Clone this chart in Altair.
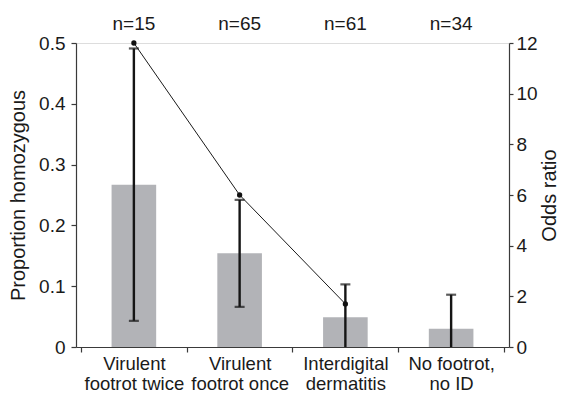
import altair as alt
import pandas as pd

# ---- data ----
label_lines = [
    ["Virulent", "footrot twice"],
    ["Virulent", "footrot once"],
    ["Interdigital", "dermatitis"],
    ["No footrot,", "no ID"],
]
n_labels = ["n=15", "n=65", "n=61", "n=34"]
proportion = [0.267, 0.154, 0.049, 0.030]
ci_low = [0.043, 0.066, 0.0, 0.0]
ci_high = [0.491, 0.242, 0.103, 0.086]
odds_ratio = [12.0, 6.0, 1.7, None]

pos = [i + 0.5 for i in range(len(label_lines))]
df = pd.DataFrame({
    "pos": pos,
    "prop": proportion,
    "lo": ci_low,
    "hi": ci_high,
    "odds": odds_ratio,
    "n": n_labels,
})

# label expression for multi-line category labels
expr_parts = []
for p, lines in zip(pos, label_lines):
    arr = "[" + ", ".join("'" + s + "'" for s in lines) + "]"
    expr_parts.append(f"datum.value == {p} ? {arr} : ")
label_expr = "".join(expr_parts) + "''"

FONT = "Liberation Sans"
AX = "#3a3a3a"
TXT = "#1a1a1a"

x_values = [v / 2 for v in range(0, 2 * len(label_lines) + 1)]

x_enc = alt.X(
    "pos:Q",
    scale=alt.Scale(domain=[0, len(label_lines)], nice=False, zero=False),
    axis=alt.Axis(
        values=x_values,
        labelExpr=label_expr,
        title=None,
        grid=False,
        tickSize=5,
        tickColor=AX,
        tickWidth=1.2,
        tickOpacity={"condition": {"test": "datum.value % 1 != 0", "value": 0}, "value": 1},
        domainColor=AX,
        domainWidth=1.2,
        labelFont=FONT,
        labelFontSize=18.5,
        labelColor=TXT,
        labelLineHeight=20,
        labelPadding=2,
        labelOverlap=False,
        labelFlush=False,
        labelBound=False,
    ),
)

y_left_scale = alt.Scale(domain=[0, 0.5], nice=False)
y_left_axis = alt.Axis(
    title="Proportion homozygous",
    values=[0, 0.1, 0.2, 0.3, 0.4, 0.5],
    format="~g",
    grid=False,
    tickSize=5,
    tickColor=AX,
    tickWidth=1.2,
    domainColor=AX,
    domainWidth=1.2,
    labelFont=FONT,
    labelFontSize=19,
    labelColor=TXT,
    labelPadding=6,
    titleFont=FONT,
    titleFontSize=20,
    titleFontWeight="normal",
    titleColor=TXT,
    titlePadding=10,
)

base = alt.Chart(df)

bars = base.mark_bar(size=44.6, color="#b2b3b7").encode(
    x=x_enc,
    y=alt.Y("prop:Q", scale=y_left_scale, axis=y_left_axis),
)

err = base.mark_rule(color="#151515", strokeWidth=2.4).encode(
    x="pos:Q",
    y=alt.Y("lo:Q", scale=y_left_scale),
    y2="hi:Q",
)

cap_hi = base.mark_tick(color="#151515", orient="horizontal", size=10, thickness=2.2).encode(
    x="pos:Q",
    y=alt.Y("hi:Q", scale=y_left_scale),
)

cap_lo = base.transform_filter("datum.lo > 0").mark_tick(
    color="#151515", orient="horizontal", size=10, thickness=2.2
).encode(
    x="pos:Q",
    y=alt.Y("lo:Q", scale=y_left_scale),
)

n_text = base.mark_text(font=FONT, fontSize=19, color=TXT, baseline="middle").encode(
    x="pos:Q",
    y=alt.value(-19),
    text="n:N",
)

left_layer = alt.layer(bars, err, cap_hi, cap_lo, n_text)

y_right_scale = alt.Scale(domain=[0, 12], nice=False)
y_right_axis = alt.Axis(
    title="Odds ratio",
    orient="right",
    values=[0, 2, 4, 6, 8, 10, 12],
    grid=False,
    tickSize=4,
    tickColor=AX,
    tickWidth=1.2,
    domainColor=AX,
    domainWidth=1.2,
    labelFont=FONT,
    labelFontSize=19,
    labelColor=TXT,
    labelPadding=3,
    titleFont=FONT,
    titleFontSize=20,
    titleFontWeight="normal",
    titleColor=TXT,
    titleAngle=270,
    titleBaseline="top",
    titlePadding=2,
)

odds_df = base.transform_filter("isValid(datum.odds)")
odds_line = odds_df.mark_line(color="#1a1a1a", strokeWidth=1).encode(
    x="pos:Q",
    y=alt.Y("odds:Q", scale=y_right_scale, axis=y_right_axis),
)
odds_pts = odds_df.mark_circle(color="#111111", size=28, opacity=1).encode(
    x="pos:Q",
    y=alt.Y("odds:Q", scale=y_right_scale, axis=y_right_axis),
)
right_layer = alt.layer(odds_line, odds_pts)

chart = (
    alt.layer(left_layer, right_layer)
    .resolve_scale(y="independent")
    .properties(
        width=433,
        height=304,
        autosize=alt.AutoSizeParams(type="none"),
        padding={"left": 68, "top": 35, "right": 51, "bottom": 46},
    )
    .configure_view(stroke=None)
    .configure(background="white")
)

chart.save("out.html", embed_options={"renderer": "svg", "actions": False})
